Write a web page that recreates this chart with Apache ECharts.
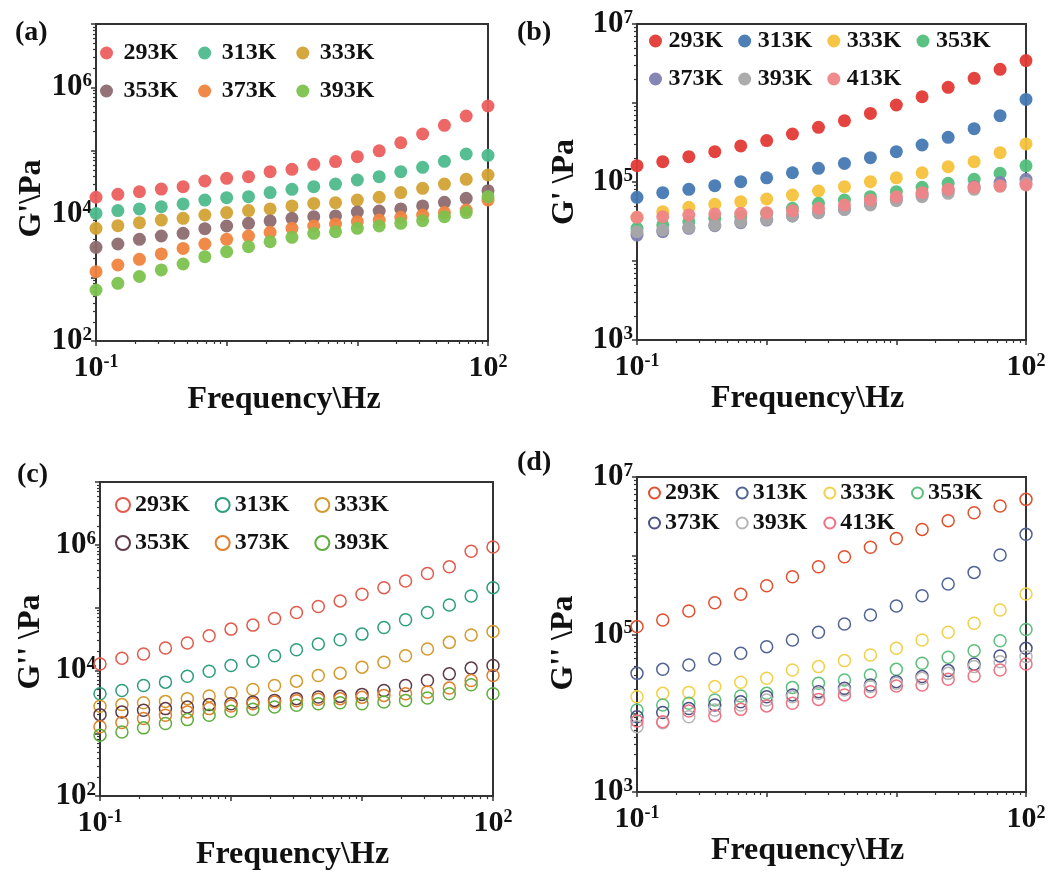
<!DOCTYPE html>
<html>
<head>
<meta charset="utf-8">
<title>G' G'' vs frequency</title>
<script src="https://cdn.jsdelivr.net/npm/echarts@6/dist/echarts.min.js"></script>
<style>
html, body { margin: 0; padding: 0; background: #fff; }
#main { width: 1049px; height: 872px; }
</style>
</head>
<body>
<div id="main"></div>
<script>
var FONT = "'Liberation Serif','Times New Roman',serif";

// frequencies (Hz)
var freq6 = [0.1, 0.147, 0.215, 0.316, 0.464, 0.681, 1, 1.47, 2.15, 3.16, 4.64, 6.81, 10, 14.7, 21.5, 31.6, 46.4, 68.1, 100];
var freq5 = [0.1, 0.158, 0.251, 0.398, 0.631, 1, 1.58, 2.51, 3.98, 6.31, 10, 15.8, 25.1, 39.8, 63.1, 100];

var tempsA = ['293K', '313K', '333K', '353K', '373K', '393K'];
var tempsB = ['293K', '313K', '333K', '353K', '373K', '393K', '413K'];

// (a) G'
var gA293 = [1.85e4, 2.06e4, 2.26e4, 2.49e4, 2.72e4, 3.34e4, 3.68e4, 3.91e4, 4.69e4, 5.11e4, 6.12e4, 6.75e4, 8.07e4, 1.00e5, 1.34e5, 1.84e5, 2.52e5, 3.54e5, 5.09e5];
var gA313 = [1.03e4, 1.14e4, 1.21e4, 1.31e4, 1.45e4, 1.67e4, 1.82e4, 1.89e4, 2.19e4, 2.47e4, 2.72e4, 2.99e4, 3.46e4, 3.91e4, 4.69e4, 5.48e4, 6.82e4, 8.91e4, 8.48e4];
var gA333 = [5.98e3, 6.59e3, 7.35e3, 8.09e3, 8.60e3, 9.71e3, 1.06e4, 1.14e4, 1.21e4, 1.35e4, 1.48e4, 1.52e4, 1.67e4, 1.85e4, 2.19e4, 2.56e4, 2.99e4, 3.55e4, 4.15e4];
var gA353 = [3.00e3, 3.39e3, 4.02e3, 4.53e3, 4.99e3, 5.92e3, 6.52e3, 7.18e3, 7.82e3, 8.61e3, 9.15e3, 9.38e3, 1.08e4, 1.12e4, 1.21e4, 1.35e4, 1.54e4, 1.78e4, 2.35e4];
var gA373 = [1.24e3, 1.58e3, 1.94e3, 2.36e3, 2.89e3, 3.39e3, 4.02e3, 4.53e3, 5.18e3, 5.98e3, 6.52e3, 7.00e3, 7.62e3, 8.09e3, 8.92e3, 9.71e3, 1.06e4, 1.16e4, 1.67e4];
var gA393 = [637, 812, 1.04e3, 1.32e3, 1.64e3, 2.14e3, 2.56e3, 3.08e3, 3.69e3, 4.32e3, 4.99e3, 5.30e3, 5.98e3, 6.52e3, 7.18e3, 7.91e3, 9.15e3, 1.06e4, 1.89e4];

// (b) G'
var gB293 = [1.61e5, 1.81e5, 2.09e5, 2.42e5, 2.86e5, 3.34e5, 4.05e5, 4.92e5, 5.97e5, 7.39e5, 9.44e5, 1.20e6, 1.58e6, 2.05e6, 2.67e6, 3.44e6];
var gB313 = [6.40e4, 7.33e4, 8.08e4, 8.99e4, 1.01e5, 1.13e5, 1.31e5, 1.49e5, 1.72e5, 2.03e5, 2.42e5, 2.94e5, 3.68e5, 4.73e5, 6.92e5, 1.11e6];
var gB333 = [3.57e4, 4.21e4, 4.78e4, 5.21e4, 5.63e4, 6.09e4, 6.84e4, 7.69e4, 8.73e4, 1.01e5, 1.13e5, 1.31e5, 1.56e5, 1.81e5, 2.35e5, 3.03e5];
var gB353 = [2.59e4, 2.86e4, 3.15e4, 3.47e4, 3.64e4, 4.01e4, 4.64e4, 5.37e4, 5.92e4, 6.52e4, 7.55e4, 8.56e4, 9.61e4, 1.08e5, 1.29e5, 1.60e5];
var gB373 = [2.13e4, 2.35e4, 2.59e4, 2.80e4, 3.06e4, 3.30e4, 3.71e4, 4.09e4, 4.51e4, 5.27e4, 6.04e4, 6.84e4, 7.76e4, 8.73e4, 9.82e4, 1.08e5];
var gB393 = [2.35e4, 2.47e4, 2.67e4, 2.86e4, 3.15e4, 3.37e4, 3.71e4, 4.09e4, 4.51e4, 5.12e4, 5.81e4, 6.52e4, 7.19e4, 8.08e4, 8.89e4, 9.61e4];
var gB413 = [3.57e4, 3.64e4, 3.82e4, 3.94e4, 4.01e4, 4.09e4, 4.34e4, 4.64e4, 5.12e4, 5.92e4, 6.52e4, 7.33e4, 8.08e4, 8.56e4, 8.89e4, 9.16e4];

// (c) G''
var gC293 = [1.27e4, 1.56e4, 1.83e4, 2.28e4, 2.74e4, 3.57e4, 4.55e4, 5.27e4, 6.71e4, 8.36e4, 1.04e5, 1.28e5, 1.63e5, 2.08e5, 2.65e5, 3.50e5, 4.46e5, 7.91e5, 9.25e5];
var gC313 = [4.26e3, 4.81e3, 5.78e3, 6.52e3, 8.11e3, 9.73e3, 1.20e4, 1.40e4, 1.72e4, 2.14e4, 2.64e4, 3.08e4, 3.79e4, 4.84e4, 6.40e4, 8.36e4, 1.10e5, 1.53e5, 2.08e5];
var gC333 = [2.69e3, 2.86e3, 3.07e3, 3.22e3, 3.56e3, 3.92e3, 4.37e3, 4.99e3, 5.78e3, 6.76e3, 8.32e3, 9.06e3, 1.13e4, 1.35e4, 1.72e4, 2.20e4, 2.80e4, 3.66e4, 4.18e4];
var gC353 = [1.98e3, 2.19e3, 2.32e3, 2.47e3, 2.62e3, 2.86e3, 2.96e3, 3.15e3, 3.34e3, 3.56e3, 3.78e3, 3.87e3, 4.16e3, 4.81e3, 5.78e3, 6.93e3, 8.83e3, 1.09e4, 1.20e4];
var gC373 = [1.27e3, 1.48e3, 1.72e3, 1.94e3, 2.19e3, 2.47e3, 2.72e3, 2.96e3, 3.15e3, 3.30e3, 3.47e3, 3.56e3, 3.73e3, 4.01e3, 4.26e3, 4.53e3, 5.24e3, 6.93e3, 8.32e3];
var gC393 = [934, 1.05e3, 1.22e3, 1.43e3, 1.65e3, 1.94e3, 2.24e3, 2.41e3, 2.62e3, 2.79e3, 2.96e3, 3.07e3, 2.96e3, 3.15e3, 3.34e3, 3.64e3, 4.26e3, 5.92e3, 4.26e3];

// (d) G''
var gD293 = [1.26e5, 1.53e5, 1.99e5, 2.53e5, 3.24e5, 4.17e5, 5.42e5, 7.26e5, 9.73e5, 1.28e6, 1.66e6, 2.16e6, 2.79e6, 3.52e6, 4.28e6, 5.20e6];
var gD313 = [3.21e4, 3.61e4, 4.10e4, 4.89e4, 5.77e4, 7.01e4, 8.52e4, 1.07e5, 1.36e5, 1.77e5, 2.30e5, 3.11e5, 4.38e5, 6.15e5, 1.02e6, 1.87e6];
var gD333 = [1.62e4, 1.79e4, 1.84e4, 2.18e4, 2.47e4, 2.78e4, 3.54e4, 3.91e4, 4.66e4, 5.50e4, 6.67e4, 8.52e4, 1.07e5, 1.39e5, 2.05e5, 3.27e5];
var gD353 = [1.10e4, 1.27e4, 1.34e4, 1.47e4, 1.66e4, 1.79e4, 2.13e4, 2.40e4, 2.64e4, 3.06e4, 3.61e4, 4.31e4, 5.13e4, 6.23e4, 8.35e4, 1.16e5];
var gD373 = [9.05e3, 1.02e4, 1.15e4, 1.27e4, 1.40e4, 1.62e4, 1.71e4, 1.88e4, 2.07e4, 2.28e4, 2.52e4, 2.92e4, 3.48e4, 4.22e4, 5.33e4, 6.67e4];
var gD393 = [6.76e3, 7.59e3, 9.05e3, 1.10e4, 1.27e4, 1.47e4, 1.62e4, 1.79e4, 1.97e4, 2.18e4, 2.40e4, 2.78e4, 3.21e4, 3.91e4, 4.52e4, 5.24e4];
var gD413 = [7.97e3, 7.82e3, 1.07e4, 9.32e3, 1.12e4, 1.24e4, 1.34e4, 1.50e4, 1.71e4, 1.88e4, 2.22e4, 2.28e4, 2.70e4, 2.97e4, 3.54e4, 4.22e4];

// ticks
var xMajor = [0.1, 1, 10, 100];
var xLabels = [0.1, 100];

function minorTicks(lo, hi) {
    var out = [];
    for (var e = lo; e < hi; e++) {
        for (var m = 2; m <= 9; m++) out.push(m * Math.pow(10, e));
    }
    return out;
}
function decades(lo, hi) {
    var out = [];
    for (var e = lo; e <= hi; e++) out.push(Math.pow(10, e));
    return out;
}

var panels = [
    {
        id: 'a', tag: '(a)', tagPos: [10, 14], box: [96, 24, 392, 317],
        freq: freq6, temps: tempsA, values: [gA293, gA313, gA333, gA353, gA373, gA393],
        colors: ['#ec5f5f', '#4dbb8c', '#d2a334', '#8e6b6f', '#f0843e', '#7dc24f'],
        hollow: false, yLo: 2, yLabels: [1e2, 1e4, 1e6], yName: "G'\\Pa", yNameGap: 48, yNamePad: [0, 32, 0, 0], xNamePad: [0, 16, 0, 0],
        legends: [{ left: 100, top: 41, iw: 24, ih: 13, gap: 20, rows: [0, 1, 2] }, { left: 100, top: 79, iw: 24, ih: 13, gap: 20, rows: [3, 4, 5] }]
    },
    {
        id: 'b', tag: '(b)', tagPos: [512, 14], box: [637, 24, 389, 316],
        freq: freq5, temps: tempsB, values: [gB293, gB313, gB333, gB353, gB373, gB393, gB413],
        colors: ['#e33a35', '#4479b3', '#f5c23b', '#52bf7c', '#7f80b2', '#a8a8a8', '#ef8486'],
        hollow: false, yLo: 3, yLabels: [1e3, 1e5, 1e7], yName: "G' \\Pa", yNameGap: 56, yNamePad: [0, 0, 0, 0], xNamePad: [0, 48, 0, 0],
        legends: [{ left: 649, top: 29, iw: 16, ih: 13, gap: 15, rows: [0, 1, 2, 3] }, { left: 649, top: 67, iw: 16, ih: 13, gap: 15, rows: [4, 5, 6] }]
    },
    {
        id: 'c', tag: '(c)', tagPos: [12, 456], box: [100, 482, 393, 316],
        freq: freq6, temps: tempsA, values: [gC293, gC313, gC333, gC353, gC373, gC393],
        colors: ['#e25a4c', '#2f9e7c', '#d39a2d', '#5e3a4a', '#e07f2c', '#5fae3d'],
        hollow: true, yLo: 2, yLabels: [1e2, 1e4, 1e6], yName: "G'' \\Pa", yNameGap: 53, yNamePad: [0, 6, 0, 0], xNamePad: [0, 8, 0, 0],
        legends: [{ left: 115, top: 493, iw: 14, ih: 14, gap: 25, rows: [0, 1, 2] }, { left: 115, top: 531, iw: 14, ih: 14, gap: 25, rows: [3, 4, 5] }]
    },
    {
        id: 'd', tag: '(d)', tagPos: [512, 444], box: [637, 477, 389, 315],
        freq: freq5, temps: tempsB, values: [gD293, gD313, gD333, gD353, gD373, gD393, gD413],
        colors: ['#e0502e', '#506496', '#f2d14a', '#5dbf7c', '#4c5288', '#b5b5b5', '#ef7282'],
        hollow: true, yLo: 3, yLabels: [1e3, 1e5, 1e7], yName: "G'' \\Pa", yNameGap: 57, yNamePad: [0, 17, 0, 0], xNamePad: [0, 48, 0, 0],
        legends: [{ left: 648, top: 481, iw: 11, ih: 11, gap: 16, rows: [0, 1, 2, 3] }, { left: 648, top: 511, iw: 11, ih: 11, gap: 16, rows: [4, 5, 6] }]
    }
];

var axisColor = '#333';
var textColor = '#111';

function supLabel(v) {
    var e = Math.round(Math.log(v) / Math.LN10);
    return '{b|10}{s|' + e + '}';
}
function richFor(size) {
    return {
        b: { fontFamily: FONT, fontWeight: 'bold', fontSize: size, color: textColor },
        s: { fontFamily: FONT, fontWeight: 'bold', fontSize: Math.round(size * 0.6), color: textColor, verticalAlign: 'top' }
    };
}

var option = {
    animation: false,
    backgroundColor: '#fff',
    title: [], grid: [], xAxis: [], yAxis: [], legend: [], series: []
};

panels.forEach(function (p, k) {
    option.grid.push({
        left: p.box[0], top: p.box[1], width: p.box[2], height: p.box[3],
        show: true, borderColor: axisColor, borderWidth: 2, backgroundColor: 'transparent'
    });
    option.title.push({
        text: p.tag, left: p.tagPos[0], top: p.tagPos[1],
        textStyle: { fontFamily: FONT, fontSize: 28, fontWeight: 'bold', color: textColor }
    });

    // main axes
    option.xAxis[k] = {
        type: 'log', logBase: 10, gridIndex: k, position: 'bottom', min: 0.1, max: 100,
        name: 'Frequency\\Hz', nameLocation: 'middle', nameGap: 42,
        nameTextStyle: { fontFamily: FONT, fontSize: 32, fontWeight: 'bold', color: textColor, padding: p.xNamePad },
        axisLine: { show: true, lineStyle: { color: axisColor, width: 2 } },
        axisTick: { show: true, inside: false, length: 5, customValues: xMajor, lineStyle: { color: axisColor, width: 1.5 } },
        axisLabel: { show: true, margin: 12, customValues: xLabels, formatter: supLabel, rich: richFor(30) },
        splitLine: { show: false }
    };
    option.yAxis[k] = {
        type: 'log', logBase: 10, gridIndex: k, position: 'left', min: Math.pow(10, p.yLo), max: 1e7,
        name: p.yName, nameLocation: 'middle', nameGap: p.yNameGap, nameRotate: 90,
        nameTextStyle: { fontFamily: FONT, fontSize: 32, fontWeight: 'bold', color: textColor, padding: p.yNamePad },
        axisLine: { show: true, lineStyle: { color: axisColor, width: 2 } },
        axisTick: { show: true, inside: false, length: 5, customValues: decades(p.yLo, 7), lineStyle: { color: axisColor, width: 1.5 } },
        axisLabel: { show: true, margin: 4, customValues: p.yLabels, formatter: supLabel, rich: richFor(31) },
        splitLine: { show: false }
    };
    // minor tick overlays
    option.xAxis[k + 4] = {
        type: 'log', logBase: 10, gridIndex: k, position: 'bottom', min: 0.1, max: 100,
        axisLine: { show: false },
        axisTick: { show: true, inside: false, length: 3, customValues: minorTicks(-1, 2), lineStyle: { color: axisColor, width: 1.2 } },
        axisLabel: { show: false },
        splitLine: { show: false }
    };
    option.yAxis[k + 4] = {
        type: 'log', logBase: 10, gridIndex: k, position: 'left', min: Math.pow(10, p.yLo), max: 1e7,
        axisLine: { show: false },
        axisTick: { show: true, inside: false, length: 3, customValues: minorTicks(p.yLo, 7), lineStyle: { color: axisColor, width: 1.2 } },
        axisLabel: { show: false },
        splitLine: { show: false }
    };

    p.legends.forEach(function (lg) {
        option.legend.push({
            left: lg.left, top: lg.top, orient: 'horizontal', padding: 0,
            itemWidth: lg.iw, itemHeight: lg.ih, itemGap: lg.gap,
            selectedMode: false,
            data: lg.rows.map(function (i) { return p.temps[i] + '@' + p.id; }),
            formatter: function (name) { return name.split('@')[0]; },
            textStyle: { fontFamily: FONT, fontSize: 24, fontWeight: 'bold', color: textColor }
        });
    });

    p.temps.forEach(function (t, i) {
        var c = p.colors[i];
        option.series.push({
            type: 'scatter', name: t + '@' + p.id,
            xAxisIndex: k, yAxisIndex: k,
            symbol: 'circle', symbolSize: p.hollow ? 12 : 13,
            data: p.values[i].map(function (v, j) { return [p.freq[j], v]; }),
            itemStyle: p.hollow
                ? { color: 'rgba(255,255,255,0)', borderColor: c, borderWidth: 1.5, opacity: 1 }
                : { color: c, opacity: 0.95 },
            emphasis: { disabled: true }
        });
    });
});

var chart = echarts.init(document.getElementById('main'));
chart.setOption(option);
</script>
</body>
</html>
